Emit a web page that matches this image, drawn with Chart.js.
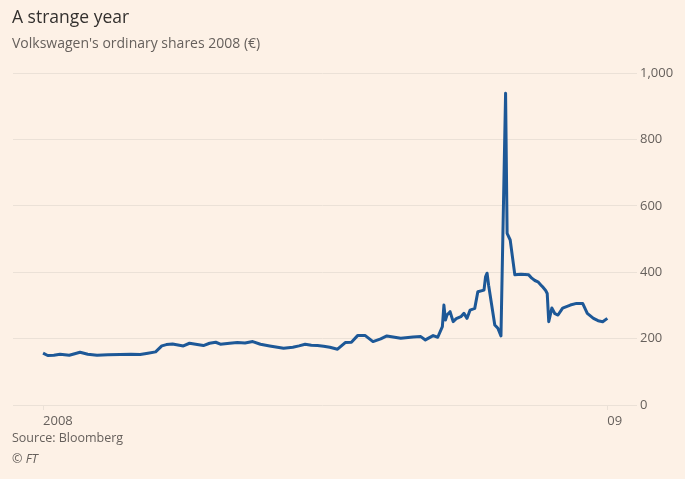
<!DOCTYPE html>
<html>
<head>
<meta charset="utf-8">
<script src="https://cdn.jsdelivr.net/npm/chart.js@4"></script>
<style>
  body { margin: 0; background: #fdf1e6; font-family: "Open Sans", "Noto Sans", sans-serif; }
  #wrap { position: relative; width: 685px; height: 479px; }
  #chart { position: absolute; left: 0; top: 0; }
  .txt { position: absolute; left: 12px; white-space: nowrap; }
  #title { top: 4px; font-size: 17.5px; color: #33302e; }
  #subtitle { top: 33px; font-size: 14px; color: #66605c; }
  #source { top: 429px; font-size: 12.5px; color: #66605c; }
  #ft { top: 450px; font-size: 12.5px; color: #66605c; font-style: italic; }
</style>
</head>
<body>
<div id="wrap">
  <canvas id="chart" width="685" height="479"></canvas>
  <div class="txt" id="title">A strange year</div>
  <div class="txt" id="subtitle">Volkswagen's ordinary shares 2008 (€)</div>
  <div class="txt" id="source">Source: Bloomberg</div>
  <div class="txt" id="ft">© FT</div>
</div>
<script>
// day of year 2008 (0 = 1 Jan 2008, 366 = 1 Jan 2009)
var days = [0, 3, 7, 11, 17, 24, 29, 35, 42, 50, 57, 63, 68, 73, 77, 80, 84, 91, 95, 100,
  104, 108, 112, 115, 121, 126, 131, 136, 141, 147, 152, 156, 162, 166, 170, 174, 178, 182, 186, 191,
  196, 200, 204, 209, 214, 219, 223, 228, 232, 240, 245, 248, 253, 256, 259, 260, 261, 262, 264, 266,
  268, 271, 273, 275, 277, 280, 282, 286, 287, 288, 289, 293, 295, 297, 300, 301, 303, 306, 310, 315,
  317, 319, 321, 323, 324, 326, 327, 328, 330, 332, 334, 337, 342, 346, 350, 353, 357, 360, 363, 366];
var prices = [156, 149, 150, 153, 150, 159, 153, 150, 151, 152, 153, 152, 156, 160, 178, 182, 184, 178, 186, 182,
  179, 186, 189, 183, 186, 188, 187, 191, 183, 178, 174, 171, 174, 178, 183, 180, 179, 177, 174, 168,
  188, 189, 209, 209, 191, 199, 208, 204, 201, 205, 206, 196, 209, 204, 236, 301, 256, 271, 281, 251,
  260, 266, 276, 261, 286, 291, 341, 346, 386, 397, 361, 241, 231, 208, 939, 517, 497, 392, 394, 392,
  382, 375, 371, 361, 356, 345, 336, 251, 292, 275, 271, 292, 301, 306, 306, 276, 261, 254, 251, 261];
var xTicks = [0, 366];
var xLabels = ["2008", "09"];
var yTicks = [0, 200, 400, 600, 800, 1000];

var textColor = "#66605c";
var gridColor = "#ebe1d7";

var points = days.map((d, i) => ({ x: d, y: prices[i] }));

new Chart(document.getElementById("chart"), {
  type: "line",
  data: {
    datasets: [{
      data: points,
      borderColor: "#1d5897",
      borderWidth: 3,
      pointRadius: 0,
      tension: 0,
      borderJoinStyle: "round",
    }]
  },
  options: {
    responsive: false,
    animation: false,
    layout: { padding: { left: 13, top: 73, right: 0, bottom: 0 } },
    plugins: { legend: { display: false }, tooltip: { enabled: false } },
    scales: {
      x: {
        type: "linear",
        min: -19.5,
        max: 382,
        afterBuildTicks: s => { s.ticks = xTicks.map(v => ({ value: v })); },
        afterFit: s => { s.height = 479 - 73 - 332; },
        ticks: {
          align: "start",
          color: textColor,
          font: { family: "'Open Sans', sans-serif", size: 13 },
          padding: 3,
          callback: v => xLabels[xTicks.indexOf(v)],
        },
        grid: { drawOnChartArea: false, drawTicks: true, tickLength: 5, color: gridColor },
        border: { display: false },
      },
      y: {
        position: "right",
        min: 0,
        max: 1000,
        afterBuildTicks: s => { s.ticks = yTicks.map(v => ({ value: v })); },
        afterFit: s => { s.width = 685 - 632; },
        ticks: {
          color: textColor,
          font: { family: "'Open Sans', sans-serif", size: 13 },
          padding: 3,
          callback: v => v.toLocaleString("en-US"),
        },
        grid: { color: gridColor, drawTicks: true, tickLength: 5 },
        border: { display: false },
      }
    }
  }
});
</script>
</body>
</html>
